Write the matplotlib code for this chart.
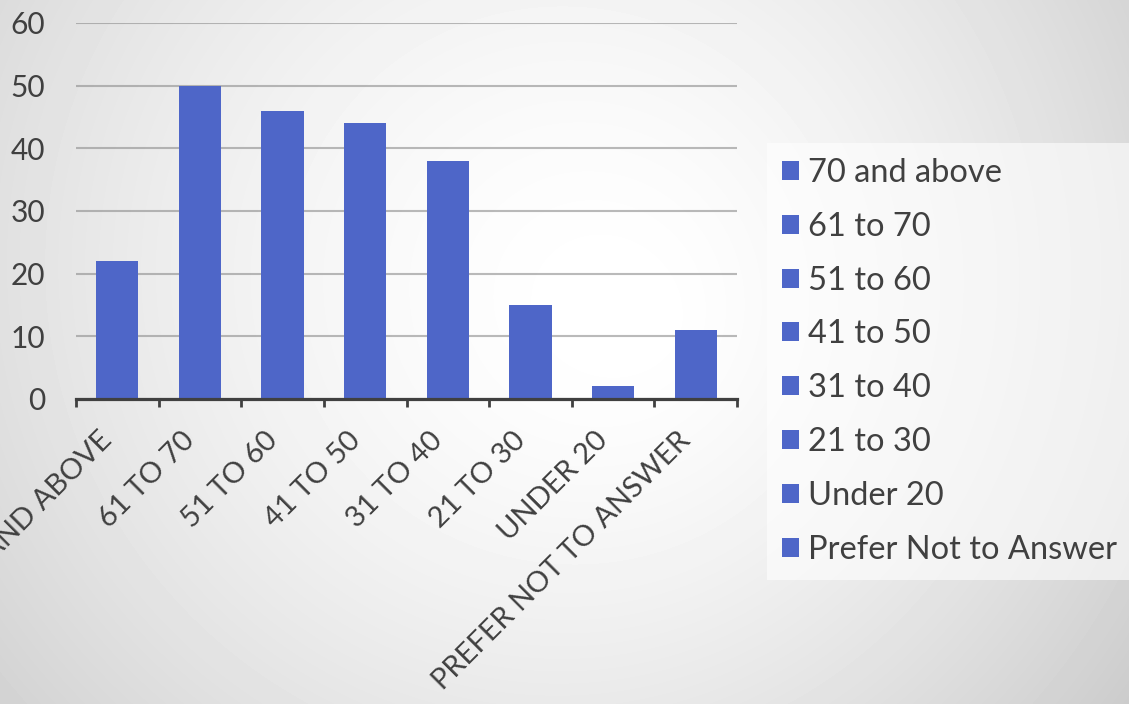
import numpy as np
import matplotlib
matplotlib.use('Agg')
from matplotlib import pyplot as plt
from matplotlib import transforms

categories = ['70 AND ABOVE', '61 TO 70', '51 TO 60', '41 TO 50',
              '31 TO 40', '21 TO 30', 'UNDER 20', 'PREFER NOT TO ANSWER']
legend_labels = ['70 and above', '61 to 70', '51 to 60', '41 to 50',
                 '31 to 40', '21 to 30', 'Under 20', 'Prefer Not to Answer']
counts = [22, 50, 46, 44, 38, 15, 2, 11]
yticks = [0, 10, 20, 30, 40, 50, 60]

text_col = '#404040'
bar_col = '#4E66C8'
plt.rcParams['font.family'] = ['Lato', 'DejaVu Sans']

fig = plt.figure(figsize=(11.29, 7.04), dpi=100)

# soft grey background, light in the middle
bg = fig.add_axes([0, 0, 1, 1], zorder=0)
W, H = 1129, 704
xx, yy = np.meshgrid(np.arange(W), np.arange(H))
r = np.hypot(xx - 650, yy - 330)
d = 0.2 * (r / 730) ** 1.5 + 0.035 * (xx - 650) / 479 + 0.015 * (yy - 330) / 374
v = np.clip(1 - d, 0, 1)
bg.imshow(v, cmap='gray', vmin=0, vmax=1, aspect='auto', interpolation='bilinear')
bg.axis('off')

ax = fig.add_axes([76 / W, 1 - 399 / H, (737 - 76) / W, (399 - 23) / H], zorder=1)
ax.set_facecolor('none')

x = np.arange(len(categories))
bars = ax.bar(x, counts, width=0.51, color=bar_col, zorder=3)

ax.set_xlim(-0.5, len(categories) - 0.5)
ax.set_ylim(0, 60)
ax.set_yticks(yticks)
ax.yaxis.grid(True, color='#8c8c8c', alpha=0.6, linewidth=1.5)
ax.set_axisbelow(True)
for s in ['top', 'right', 'left']:
    ax.spines[s].set_visible(False)
ax.spines['bottom'].set_color(text_col)
ax.spines['bottom'].set_linewidth(2.3)
ax.spines['bottom'].set_zorder(4)

ax.set_xticks(x)
ax.set_xticklabels(categories, rotation=45, ha='right', va='top',
                   fontsize=21, color=text_col)
shift = transforms.ScaledTranslation(8 / 100, 0, fig.dpi_scale_trans)
for lbl in ax.get_xticklabels():
    lbl.set_transform(lbl.get_transform() + shift)
ax.set_xticks(np.arange(-0.5, len(categories)), minor=True)
ax.tick_params(axis='x', which='major', length=0, pad=20)
ax.tick_params(axis='x', which='minor', length=6, width=2, color=text_col, direction='out')
ax.tick_params(axis='y', length=0, pad=22, labelsize=21.5, labelcolor=text_col)

leg = ax.legend(bars, legend_labels, loc='upper left',
                bbox_to_anchor=(767 / W, 1 - 143 / H), bbox_transform=fig.transFigure,
                fontsize=23.5, frameon=True, fancybox=False, borderaxespad=0,
                borderpad=0.46, handlelength=0.52, handleheight=0.52,
                handletextpad=0.28, labelspacing=0.73)
leg.get_frame().set_facecolor('white')
leg.get_frame().set_alpha(0.6)
leg.get_frame().set_linewidth(0)
for t in leg.get_texts():
    t.set_color(text_col)

fig.savefig('out.png', dpi=100)
